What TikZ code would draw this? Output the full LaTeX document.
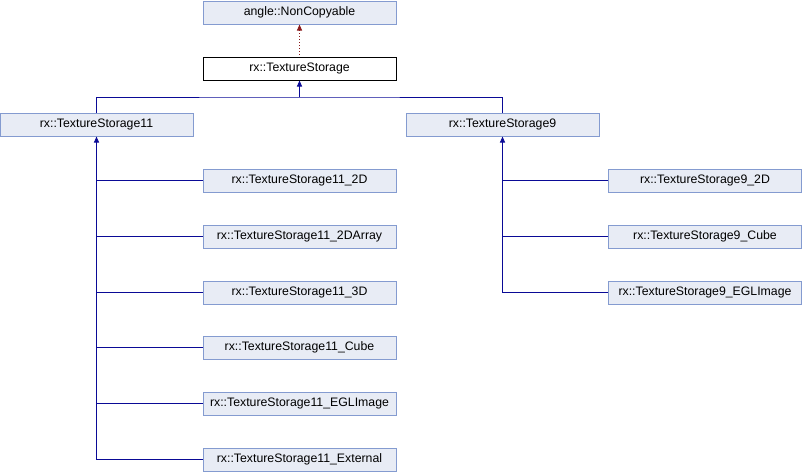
\documentclass[tikz,border=0pt]{standalone}
\usepackage{fontspec}
\setmainfont{Liberation Sans}
\usepackage{tikz}
\usetikzlibrary{arrows.meta,positioning,calc}
\definecolor{boxfill}{RGB}{232, 236, 245}
\definecolor{boxline}{RGB}{132, 155, 208}
\definecolor{publicblue}{RGB}{10, 10, 150}
\definecolor{privatered}{RGB}{139, 26, 26}

\tikzset{
    classbox/.style={draw=boxline,fill=boxfill,line width=1pt,minimum width=193pt,minimum height=23pt,inner sep=0pt,font=\fontsize{12.3}{14}\selectfont},
    basebox/.style={classbox,draw=black,fill=white},
    pubedge/.style={draw=publicblue,line width=1pt},
    privedge/.style={draw=privatered,line width=1pt,dotted},
    inherit/.style={{Triangle[width=5pt,length=6pt]}-}
}

\begin{document}
\begin{tikzpicture}[x=1pt,y=-1pt]
    \useasboundingbox (0,0) rectangle (802,472);

    % Top of the hierarchy
    \node[classbox] (noncopy) at (299.5,12.5) {angle::NonCopyable};
    \node[basebox] (storage) at (299.5,68.5) {rx::TextureStorage};
    \draw[privedge,inherit] (noncopy.south) -- (storage.north);

    % Two direct subclasses
    \node[classbox] (ts11) at (96.5,124.5) {rx::TextureStorage11};
    \node[classbox] (ts9) at (502.5,124.5) {rx::TextureStorage9};
    \draw[pubedge,inherit] (storage.south) -- ++(0,16.5) coordinate (split);
    \draw[pubedge] (ts11.north) |- (split) -| (ts9.north);

    % Subclasses of rx::TextureStorage11
    \node[classbox] (ts11twod) at (299.5,180.5) {rx::TextureStorage11\_2D};
    \node[classbox] (ts11array) at (299.5,236.5) {rx::TextureStorage11\_2DArray};
    \node[classbox] (ts11threed) at (299.5,292.5) {rx::TextureStorage11\_3D};
    \node[classbox] (ts11cube) at (299.5,347.5) {rx::TextureStorage11\_Cube};
    \node[classbox] (ts11egl) at (299.5,403.5) {rx::TextureStorage11\_EGLImage};
    \node[classbox] (ts11ext) at (299.5,459.5) {rx::TextureStorage11\_External};
    \draw[pubedge,inherit] (ts11.south) -- (ts11.south |- ts11ext.west);
    \draw[pubedge] (ts11twod.west) -- (ts11twod.west -| ts11.south);
    \draw[pubedge] (ts11array.west) -- (ts11array.west -| ts11.south);
    \draw[pubedge] (ts11threed.west) -- (ts11threed.west -| ts11.south);
    \draw[pubedge] (ts11cube.west) -- (ts11cube.west -| ts11.south);
    \draw[pubedge] (ts11egl.west) -- (ts11egl.west -| ts11.south);
    \draw[pubedge] (ts11ext.west) -- (ts11ext.west -| ts11.south);

    % Subclasses of rx::TextureStorage9
    \node[classbox] (ts9twod) at (705,180.5) {rx::TextureStorage9\_2D};
    \node[classbox] (ts9cube) at (705,236.5) {rx::TextureStorage9\_Cube};
    \node[classbox] (ts9egl) at (705,292.5) {rx::TextureStorage9\_EGLImage};
    \draw[pubedge,inherit] (ts9.south) -- (ts9.south |- ts9egl.west);
    \draw[pubedge] (ts9twod.west) -- (ts9twod.west -| ts9.south);
    \draw[pubedge] (ts9cube.west) -- (ts9cube.west -| ts9.south);
    \draw[pubedge] (ts9egl.west) -- (ts9egl.west -| ts9.south);
\end{tikzpicture}
\end{document}
